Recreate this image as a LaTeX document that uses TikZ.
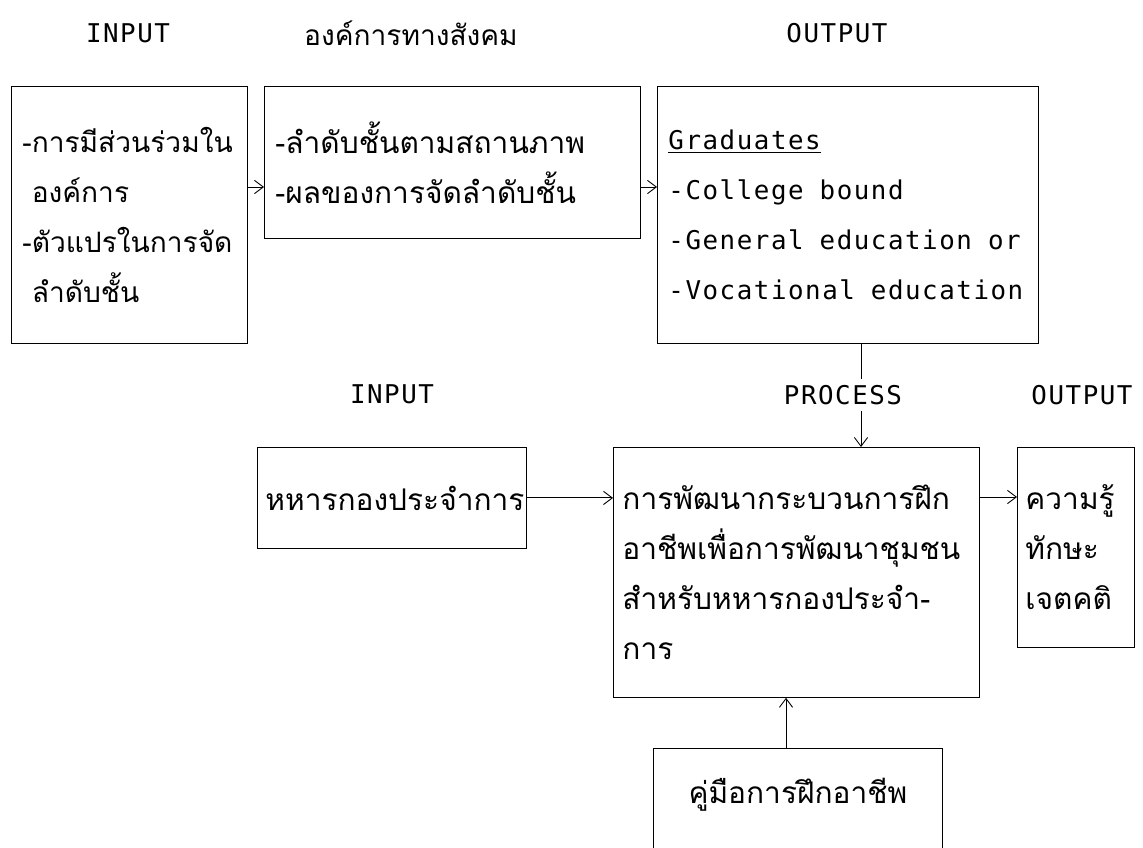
\documentclass[tikz,border=0pt]{standalone}
\usepackage{fontspec}
\newfontfamily\thaifont[Script=Thai]{Loma}
\newfontfamily\monofont[LetterSpace=6]{DejaVu Sans Mono}
\newcommand{\wsp}{\hspace{0.62em}}
\usetikzlibrary{positioning,arrows.meta}

\begin{document}
\begin{tikzpicture}[x=0.02cm,y=-0.02cm,line width=0.5pt,>={Straight Barb[length=5pt,width=7.5pt]},
  box/.style={draw,rectangle,anchor=north west,align=left,inner ysep=0pt,inner xsep=0.22cm},
  thai/.style={font={\thaifont\fontsize{17}{28.45}\selectfont}},
  mono/.style={font={\monofont\fontsize{14.7}{28.45}\selectfont}}]
\useasboundingbox (0,0) rectangle (1143,848);
\clip (0,0) rectangle (1143,848);
% headings
\foreach \x/\y/\txt/\nm in %
{128/33/INPUT/inlbl,837/33/OUTPUT/outlbl,392/394/INPUT/inlblb,843/395/PROCESS/proclbl,1082/395/OUTPUT/outlblb} {
   \node[mono] (\nm) at (\x,\y) {\txt};
}
\node[thai,font={\thaifont\fontsize{16}{28.45}\selectfont}] (orglbl) at (411,33) {องค์การทางสังคม};
% upper row
\node[box,thai,font={\thaifont\fontsize{16}{28.45}\selectfont},text width=4.28cm,minimum height=5.14cm] (inp) at (11,86)
   {\mbox{-การมีส่วนร่วมใน}\\\mbox{\phantom{-}องค์การ}\\\mbox{-ตัวแปรในการจัด}\\\mbox{\phantom{-}ลำดับชั้น}};
\node[box,thai,text width=7.08cm,minimum height=3.04cm] (org) at (264,86)
   {\mbox{-ลำดับชั้นตามสถานภาพ}\\\mbox{-ผลของการจัดลำดับชั้น}};
\node[box,mono,text width=7.18cm,minimum height=5.14cm] (grad) at (657,86)
   {\underline{Graduates}\\\mbox{-College\wsp bound}\\\mbox{-General\wsp education\wsp or}\\\mbox{-Vocational\wsp education}};
% lower row
\node[box,thai,inner xsep=0.16cm,text width=5.06cm,minimum height=2.02cm] (army) at (257,447)
   {หหารกองประจำการ};
\node[box,thai,inner xsep=0.18cm,text width=6.96cm,minimum height=5cm] (proc) at (613,447)
   {การพัฒนากระบวนการฝึก\\อาชีพเพื่อการพัฒนาชุมชน\\\mbox{สำหรับหหารกองประจำ-}\\การ};
\node[box,thai,inner xsep=0.16cm,text width=2.02cm,minimum height=4cm] (result) at (1017,447)
   {ความรู้\\ทักษะ\\เจตคติ};
\node[box,thai,align=center,text width=5.34cm,text depth=0.7cm,minimum height=2.4cm] (manual) at (653,748)
   {คู่มือการฝึกอาชีพ};
% connectors
\coordinate (rowa) at (0,187);
\coordinate (rowb) at (0,497);
\coordinate (linka) at (861,0);
\coordinate (linkb) at (786,0);
\draw[->] (inp.east |- rowa) -- (org.west |- rowa);
\draw[->] (org.east |- rowa) -- (grad.west |- rowa);
\draw (grad.south -| linka) -- (proclbl.north -| linka);
\draw[->] (proclbl.south -| linka) -- (proc.north -| linka);
\draw[->] (army.east) -- (proc.west |- army.east);
\draw[->] (proc.east |- rowb) -- (result.west |- rowb);
\draw[->] (manual.north -| linkb) -- (proc.south -| linkb);
\end{tikzpicture}
\end{document}
